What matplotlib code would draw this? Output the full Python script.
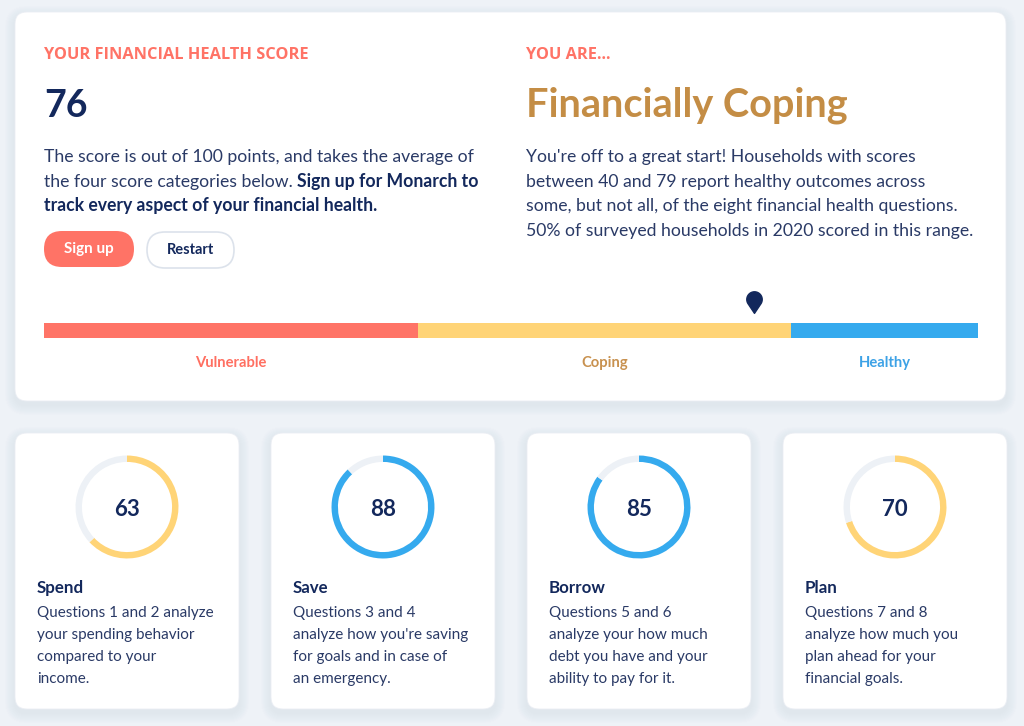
import numpy as np
import matplotlib.pyplot as plt
from matplotlib.patches import FancyBboxPatch
from matplotlib.path import Path

# ---- data ----
overall_score = 76
status_label = "Financially Coping"
band_names = ["Vulnerable", "Coping", "Healthy"]
band_edges = [0, 40, 80, 100]
band_colors = ["#FF7467", "#FFD477", "#35AAEE"]
band_text_colors = ["#FF6F61", "#C8914F", "#3DA2E6"]

category_names = ["Spend", "Save", "Borrow", "Plan"]
category_scores = [63, 88, 85, 70]
category_texts = [
    ["Questions 1 and 2 analyze", "your spending behavior", "compared to your", "income."],
    ["Questions 3 and 4", "analyze how you're saving", "for goals and in case of", "an emergency."],
    ["Questions 5 and 6", "analyze your how much", "debt you have and your", "ability to pay for it."],
    ["Questions 7 and 8", "analyze how much you", "plan ahead for your", "financial goals."],
]

left_lines = ["The score is out of 100 points, and takes the average of",
              ("the four score categories below. ", "Sign up for Monarch to"),
              "track every aspect of your financial health."]
right_lines = ["You're off to a great start! Households with scores",
               "between 40 and 79 report healthy outcomes across",
               "some, but not all, of the eight financial health questions.",
               "50% of surveyed households in 2020 scored in this range."]

# ---- style ----
FONT = "Lato"
NAVY = "#13285C"
BODY = "#2A3A66"
SALMON = "#FF7366"
BG = "#EEF2F7"
TRACK = "#EDF1F6"
W, H = 1024, 726
BODY_SIZE = 12.7

plt.rcParams["font.family"] = FONT


def frac(x, y, w, h):
    return [x / W, 1 - (y + h) / H, w / W, h / H]


fig = plt.figure(figsize=(W / 100, H / 100), dpi=100)
fig.patch.set_facecolor(BG)
ax = fig.add_axes([0, 0, 1, 1])
ax.set_xlim(0, W)
ax.set_ylim(H, 0)
ax.axis("off")


def card(x, y, w, h, r=12):
    for k in range(10, 0, -1):
        ax.add_patch(FancyBboxPatch((x - k, y - k + 4), w + 2 * k, h + 2 * k,
                                    boxstyle=f"round,pad=0,rounding_size={r + k}",
                                    fc="#B4BED2", ec="none", alpha=0.018))
    ax.add_patch(FancyBboxPatch((x, y), w, h, boxstyle=f"round,pad=0,rounding_size={r}",
                                fc="white", ec="#EBEEF4", lw=0.6))


# top card
card(15, 12, 991, 389)

ax.text(44, 59, "YOUR FINANCIAL HEALTH SCORE", color=SALMON, fontsize=11.8,
        fontweight="bold", va="baseline", family="Open Sans")
ax.text(44, 117, str(overall_score), color=NAVY, fontsize=27, fontweight="bold", va="baseline")

ys = [162, 187, 211]
for y, line in zip(ys, left_lines):
    if isinstance(line, tuple):
        t1 = ax.text(44, y, line[0], color=BODY, fontsize=BODY_SIZE, va="baseline")
        ax.annotate(line[1], xy=(1, 0), xycoords=t1, color=NAVY, fontsize=BODY_SIZE,
                    fontweight="bold", va="bottom", ha="left")
    else:
        bold = y == ys[-1]
        ax.text(44, y, line, color=NAVY if bold else BODY, fontsize=BODY_SIZE,
                fontweight="bold" if bold else "normal", va="baseline")

# buttons
ax.add_patch(FancyBboxPatch((44, 231), 90, 36, boxstyle="round,pad=0,rounding_size=18",
                            fc=SALMON, ec="none"))
ax.text(89, 249.5, "Sign up", color="white", fontsize=11, fontweight="bold",
        ha="center", va="center")
ax.add_patch(FancyBboxPatch((147, 232), 87, 36, boxstyle="round,pad=0,rounding_size=18",
                            fc="white", ec="#DCE2EB", lw=1.2))
ax.text(190.5, 250.5, "Restart", color=NAVY, fontsize=10.5, fontweight="bold",
        ha="center", va="center")

ax.text(526, 59, "YOU ARE...", color=SALMON, fontsize=11.8, fontweight="bold",
        va="baseline", family="Open Sans")
ax.text(526, 117, status_label, color="#C48D45", fontsize=28.5, fontweight="bold", va="baseline")
for y, line in zip([162, 187, 211, 236], right_lines):
    ax.text(526, y, line, color=BODY, fontsize=BODY_SIZE, va="baseline")

# score scale
sx = fig.add_axes(frac(44, 280, 934, 100))
sx.set_xlim(band_edges[0], band_edges[-1])
sx.set_ylim(100, 0)
sx.axis("off")
sx.barh(51, np.diff(band_edges), left=band_edges[:-1], height=15, color=band_colors)
for i, name in enumerate(band_names):
    mid = (band_edges[i] + band_edges[i + 1]) / 2
    sx.text(mid, 83, name, color=band_text_colors[i], fontsize=10.6, fontweight="bold",
            ha="center", va="center")

a = np.arcsin(1 / 1.8)
theta = np.linspace(-a, np.pi + a, 40)
verts = [(np.cos(t), np.sin(t)) for t in theta] + [(0, -1.8), (np.cos(-a), np.sin(-a))]
pin = Path(verts, closed=True)
sx.plot([overall_score], [19], marker=pin, markersize=20, color=NAVY, linestyle="none")

# category cards
for i, (name, score, lines) in enumerate(zip(category_names, category_scores, category_texts)):
    x0 = 15 + 256 * i
    card(x0, 433, 224, 276)
    cx, cy, r = x0 + 112, 507, 52
    ra = fig.add_axes(frac(cx - r, cy - r, 2 * r, 2 * r))
    col = band_colors[2] if score >= band_edges[2] else band_colors[1]
    ra.pie([score, 100 - score], colors=[col, TRACK], startangle=90, counterclock=False,
           radius=1, wedgeprops=dict(width=0.125, linewidth=0))
    ra.set_xlim(-1.01, 1.01)
    ra.set_ylim(-1.01, 1.01)
    ax.text(cx, 516, str(score), color=NAVY, fontsize=16, fontweight="bold",
            ha="center", va="baseline")
    ax.text(x0 + 22, 593, name, color=NAVY, fontsize=12.2, fontweight="bold", va="baseline")
    for k, line in enumerate(lines):
        ax.text(x0 + 22, 617 + 22 * k, line, color=BODY, fontsize=11, va="baseline")

fig.savefig("out.png", dpi=100, facecolor=BG)
